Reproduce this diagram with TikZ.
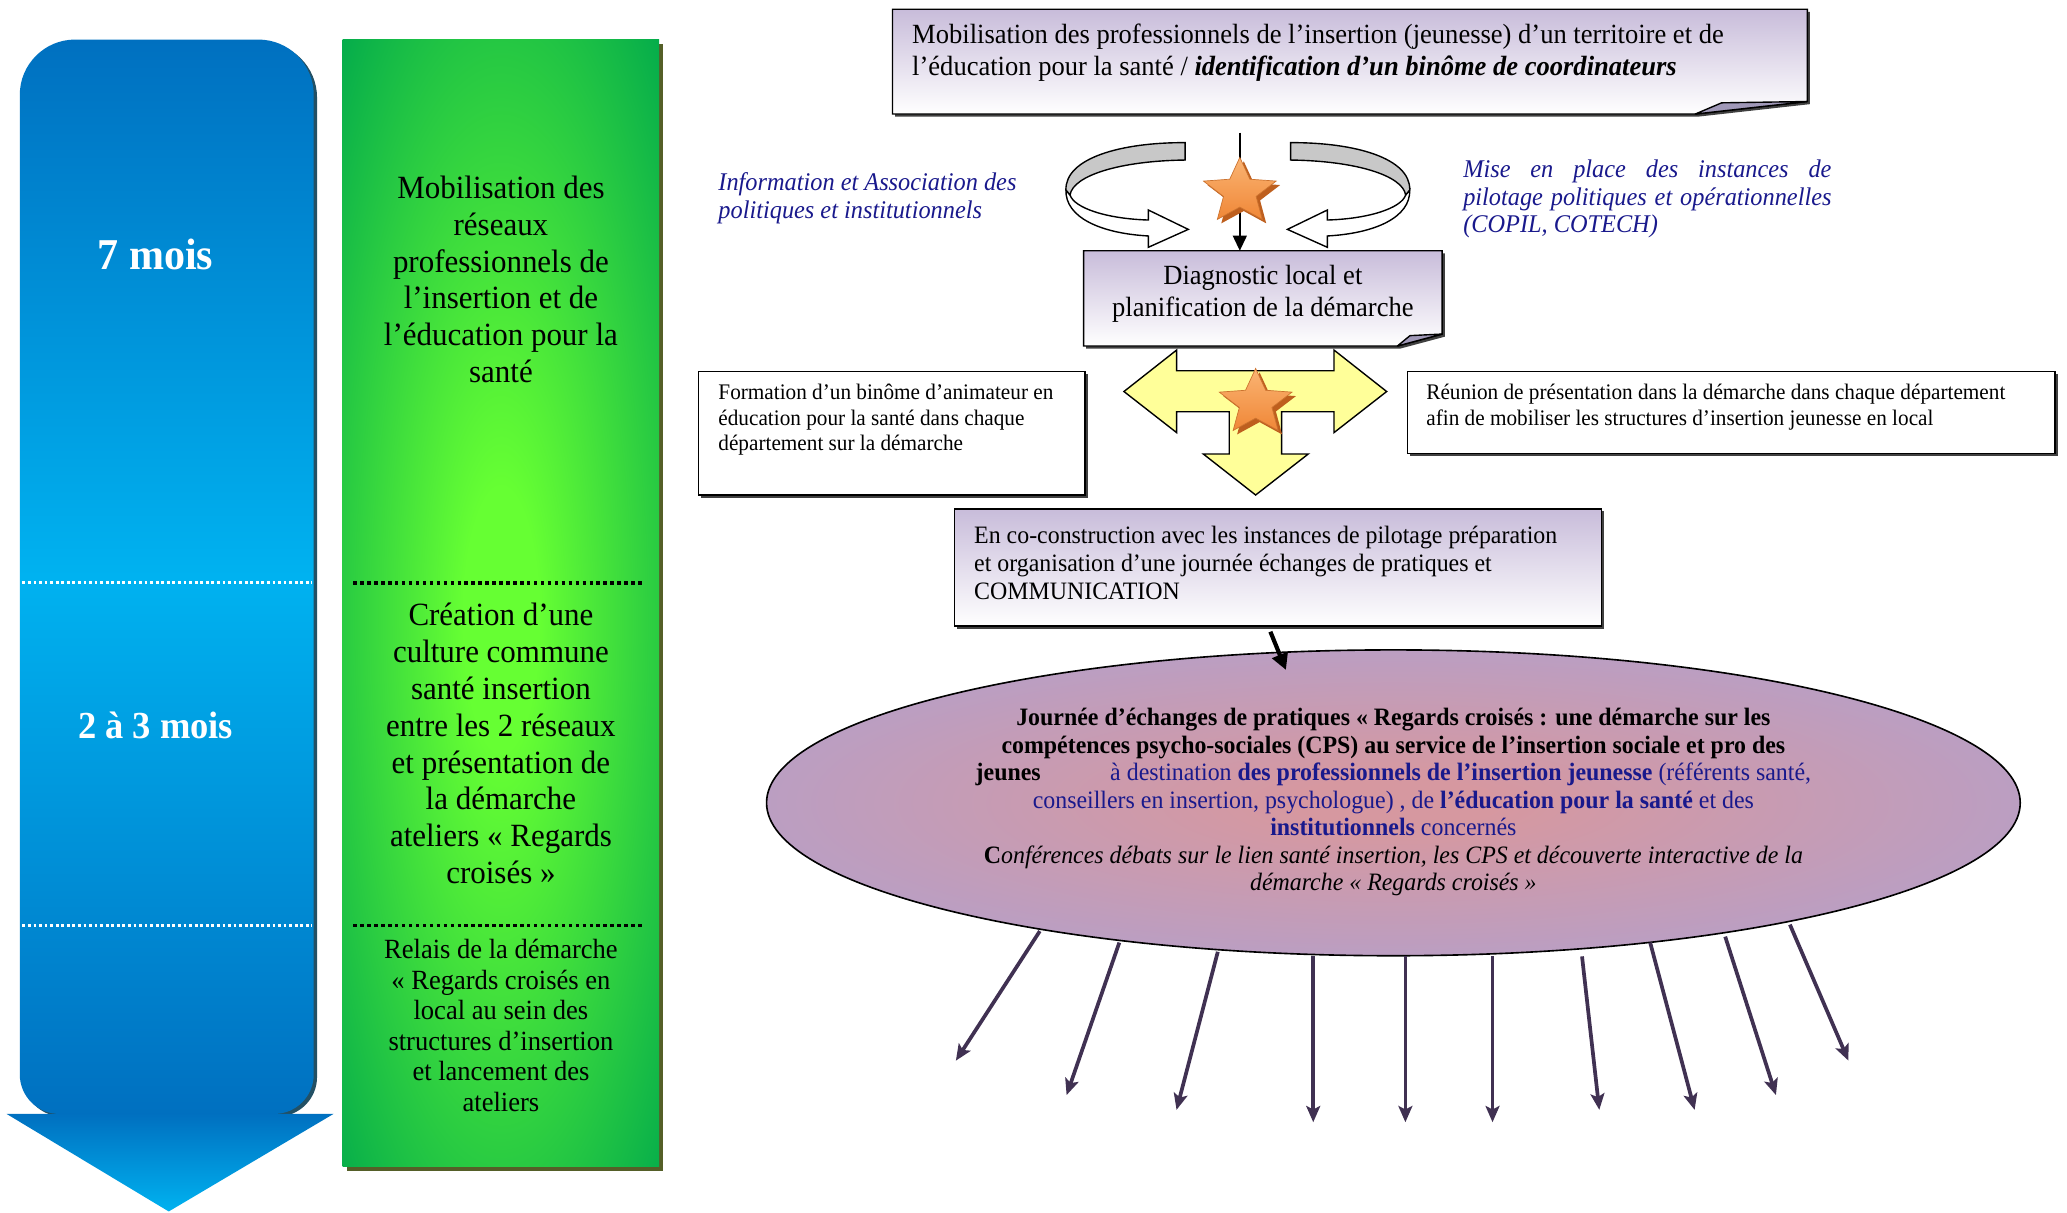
\documentclass[tikz,border=0pt]{standalone}
\usepackage{fontspec}
\setmainfont{Liberation Serif}[FakeStretch=0.955]
\usetikzlibrary{arrows.meta,fit}
\definecolor{navyt}{RGB}{25,25,140}
\definecolor{lav}{RGB}{200,188,218}
\definecolor{foldc}{RGB}{160,152,184}
\definecolor{bluedark}{RGB}{0,112,192}
\definecolor{bluelight}{RGB}{0,178,240}
\definecolor{blueshadow}{RGB}{35,80,100}
\definecolor{glime}{RGB}{102,255,51}
\definecolor{gdark}{RGB}{0,168,76}
\definecolor{gshadow}{RGB}{85,95,40}
\definecolor{yel}{RGB}{255,255,153}
\definecolor{ellin}{RGB}{214,152,160}
\definecolor{ellout}{RGB}{178,160,205}
\definecolor{arrowp}{RGB}{64,49,82}
\definecolor{ribgray}{RGB}{200,200,200}
\definecolor{starlt}{RGB}{250,180,115}
\definecolor{stardk}{RGB}{240,135,55}
\definecolor{starsh}{RGB}{190,95,30}
\pgfdeclareradialshading{greenrad}{\pgfpoint{0bp}{0bp}}{color(0bp)=(glime); color(3bp)=(glime); color(19bp)=(gdark); color(50bp)=(gdark)}
\pgfdeclareradialshading{ellrad}{\pgfpoint{0bp}{0bp}}{color(0bp)=(ellin); color(4bp)=(ellin); color(32bp)=(ellout); color(50bp)=(ellout)}
\newcommand{\mystarpath}{(-90:29 and 26) -- (-54:13 and 11.7) -- (-18:29 and 26) -- (18:13 and 11.7) -- (54:29 and 26) -- (90:13 and 11.7) -- (126:29 and 26) -- (162:13 and 11.7) -- (198:29 and 26) -- (234:13 and 11.7) -- cycle}
\newcommand{\orstar}[2]{%
  \begin{scope}[shift={(#1+3,#2+3)}]\fill[starsh] \mystarpath;\end{scope}
  \begin{scope}[shift={(#1,#2)}]\shade[top color=starlt, bottom color=stardk, draw=stardk!85!black, line width=0.3pt] \mystarpath;\end{scope}}
\newcommand{\myribbon}{%
  \filldraw[fill=white, draw=black, line width=0.6pt, line join=miter] (808.6,144.1) .. controls (808,165) and (835,177) .. (871.1,179) -- (871.1,187.6) -- (901.4,174) -- (871.1,159.3) -- (871.1,166.9) .. controls (840,166) and (815,158) .. (811.7,147.9) -- cycle;
  \filldraw[fill=ribgray, draw=black, line width=0.6pt] (899,108.2) .. controls (850,108) and (808,120) .. (808.6,144.1) -- (811.7,147.9) .. controls (814,133) and (850,122) .. (899,121.4) -- cycle;}
\begin{document}
\begin{tikzpicture}[x=0.02cm,y=-0.02cm,
  every node/.style={inner sep=0pt, outer sep=0pt},
  gtext/.style={align=center, font=\fontsize{14}{15.9}\selectfont},
  boxtext/.style={align=left, anchor=west},
  navylab/.style={text=navyt, align=left, anchor=west, font=\itshape\fontsize{11}{12}\selectfont},
  shadowc/.style={fill=black!75},
  lavbox/.style={top color=lav, bottom color=white, draw=black, line width=0.6pt},
  whitebox/.style={fill=white, draw=black, line width=0.6pt},
  foldflap/.style={fill=foldc, draw=black, line width=0.6pt, line join=round},
  outarrow/.style={draw=arrowp, line width=1.6pt, -{Stealth[length=7pt,width=6pt,inset=1.5pt]}},
  dotw/.style={white, line width=1.4pt, dash pattern=on 1.2pt off 1.2pt},
  dotk/.style={black, line width=1.6pt, dash pattern=on 1.5pt off 1.5pt},
]
\useasboundingbox (0,0) rectangle (1568,920);

% ---- blue time column
\fill[blueshadow] (17.5,400) [rounded corners=0.84cm] -- (17.5,32) -- (240.5,32) -- (240.5,400) [rounded corners=0.6cm] -- (240.5,847) -- (17.5,847) -- (17.5,400) -- cycle;
\shade[top color=bluedark, bottom color=bluedark, middle color=bluelight] (15,400) [rounded corners=0.84cm] -- (15,30) -- (238,30) -- (238,400) [rounded corners=0.6cm] -- (238,845) -- (15,845) -- (15,400) -- cycle;
\shade[top color=bluedark, bottom color=bluelight] (5,845) -- (253,845) -- (128,919) -- cycle;
\draw[dotw] (17,442) -- (237,442);
\draw[dotw] (17,702) -- (237,702);
\node[text=white, font=\bfseries\fontsize{19}{22}\selectfont] (t7) at (118,193) {7 mois};
\node[text=white, font=\bfseries\fontsize{16.5}{19}\selectfont] (t23) at (118,550) {2 à 3 mois};

% ---- green column
\fill[gshadow] (263,33) rectangle (503,888);
\begin{scope}
  \clip (260,30) rectangle (500,885);
  \shade[shading=greenrad] (140,-360) rectangle (620,1300);
\end{scope}
\draw[dotk] (268,442) -- (488,442);
\draw[dotk] (268,702) -- (488,702);
\node[gtext] (g1) at (380,212) {Mobilisation des\\réseaux\\professionnels de\\l’insertion et de\\l’éducation pour la\\santé};
\node[gtext] (g2) at (380,564) {Création d’une\\culture commune\\santé insertion\\entre les 2 réseaux\\et présentation de\\la démarche\\ateliers « Regards\\croisés »};
\node[align=center, font=\fontsize{12}{13.2}\selectfont] (g3) at (380,778) {Relais de la démarche\\« Regards croisés en\\local au sein des\\structures d’insertion\\et lancement des\\ateliers};

% ---- top box
\fill[shadowc] (679,9) -- (1373,9) -- (1373,79) -- (1288,88.5) -- (679,88.5) -- cycle;
\shade[lavbox] (677,7) -- (1371,7) -- (1371,77) -- (1286,86.5) -- (677,86.5) -- cycle;
\filldraw[foldflap] (1286,86.5) -- (1306,78) -- (1371,77) -- cycle;
\node[boxtext, font=\fontsize{12}{13.66}\selectfont] (topt) at (692,40) {Mobilisation des professionnels de l’insertion (jeunesse) d’un territoire et de\\l’éducation pour la santé / \textbf{\textit{identification d’un binôme de coordinateurs}}};

% ---- side labels
\node[navylab] (infoasso) at (545,150.5) {Information et Association des\\politiques et institutionnels};
\node[navylab] (miseplace) at (1110,151) {\makebox[159pt][s]{Mise en place des instances de}\\\makebox[159pt][s]{pilotage politiques et opérationnelles}\\(COPIL, COTECH)};

% ---- curved arrows, line and star
\myribbon
\begin{scope}[shift={(1878,0)},xscale=-1]
  \myribbon
\end{scope}

% ---- diagnostic box
\fill[shadowc] (824,192.2) -- (1096,192.2) -- (1096,255.4) -- (1062,264.5) -- (824,264.5) -- cycle;
\shade[lavbox] (822,190.2) -- (1094,190.2) -- (1094,253.4) -- (1060,262.5) -- (822,262.5) -- cycle;
\filldraw[foldflap] (1060,262.5) -- (1069.6,254.6) -- (1094,253.4) -- cycle;
\node[fit={(822,190.2) (1094,262.5)}] (diagbox) {};
\node[align=center, font=\fontsize{12}{13.66}\selectfont] (diagt) at (958,223) {Diagnostic local et\\planification de la démarche};

\coordinate (vtop) at (940.5,100.6);
\draw[line width=0.7pt, -{Triangle[length=6.5pt,width=6pt]}] (vtop) -- (vtop |- diagbox.north);
\orstar{940.5}{145.4}

% ---- side boxes
\fill[shadowc] (532,284) rectangle (825,377.5);
\filldraw[whitebox] (530,282) rectangle (823,375.5);
\node[boxtext, font=\fontsize{9.6}{11.1}\selectfont] (formt) at (545,318.5) {Formation d’un binôme d’animateur en\\éducation pour la santé dans chaque\\département sur la démarche};
\fill[shadowc] (1069.6,284) rectangle (1561,346);
\filldraw[whitebox] (1067.6,282) rectangle (1559,344);
\node[boxtext, font=\fontsize{9.6}{11.1}\selectfont] (reunt) at (1082,309) {Réunion de présentation dans la démarche dans chaque département\\afin de mobiliser les structures d’insertion jeunesse en local};

% ---- yellow three-way arrow
\filldraw[fill=yel, draw=black, line width=0.6pt, line join=miter] (852.6,297) -- (892.6,265.5) -- (892.6,281.2) -- (1011.9,281.2) -- (1011.9,265.5) -- (1051.9,297) -- (1011.9,328.2) -- (1011.9,312.3) -- (972.2,312.3) -- (972.2,344.4) -- (992.4,344.4) -- (952.5,375.5) -- (912.8,344.4) -- (932.5,344.4) -- (932.5,312.3) -- (892.6,312.3) -- (892.6,328.2) -- cycle;
\orstar{952.5}{305.5}

% ---- co-construction box
\fill[shadowc] (726,388) rectangle (1217,477);
\shade[lavbox] (724,386) rectangle (1215,475);
\node[fit={(724,386) (1215,475)}] (cobox) {};
\node[boxtext, font=\fontsize{10.8}{12}\selectfont] (cot) at (739,427) {En co-construction avec les instances de pilotage préparation\\et organisation d’une journée échanges de pratiques et\\COMMUNICATION};

% ---- ellipse
\shade[shading=ellrad, draw=black, line width=0.7pt] (1057,609) ellipse [x radius=475.5, y radius=116];
\node[align=center, font=\fontsize{10.8}{11.9}\selectfont] (elltext) at (1057,608.5) {\textbf{Journée d’échanges de pratiques « Regards croisés : une démarche sur les}\\
\textbf{compétences psycho-sociales (CPS) au service de l’insertion sociale et pro des}\\
\textbf{jeunes}\hspace{30pt}{\color{navyt}à destination \textbf{des professionnels de l’insertion jeunesse} (référents santé,}\\
{\color{navyt}conseillers en insertion, psychologue) , de \textbf{l’éducation pour la santé} et des}\\
{\color{navyt}\textbf{institutionnels} concernés}\\
\textbf{C}\textit{onférences débats sur le lien santé insertion, les CPS et découverte interactive de la}\\
\textit{démarche « Regards croisés »}};

\coordinate (coa) at (963.7,479.2);
\coordinate (cob) at (975.5,508.2);
\draw[line width=1.8pt, -{Triangle[length=7pt,width=7pt]}] (coa) -- (cob);

% ---- outgoing arrows
\foreach \i/\sx/\sy/\ex/\ey in {1/788.8/706.3/725.1/804.6, 2/849.1/715.0/809.1/830.7, 3/923.8/722.0/892.5/841.9, 4/996.2/725.5/996.2/851.3, 5/1066.1/725.5/1066.1/851.3, 6/1132.2/725.5/1132.2/851.3, 7/1200.1/725.5/1213.2/841.9, 8/1251.8/715.0/1285.5/841.9, 9/1308.7/710.5/1347.2/830.7, 10/1357.8/701.4/1402.2/804.6}{
  \coordinate (s\i) at (\sx,\sy);
  \coordinate (e\i) at (\ex,\ey);
  \draw[outarrow] (s\i) -- (e\i);
}
\end{tikzpicture}
\end{document}
